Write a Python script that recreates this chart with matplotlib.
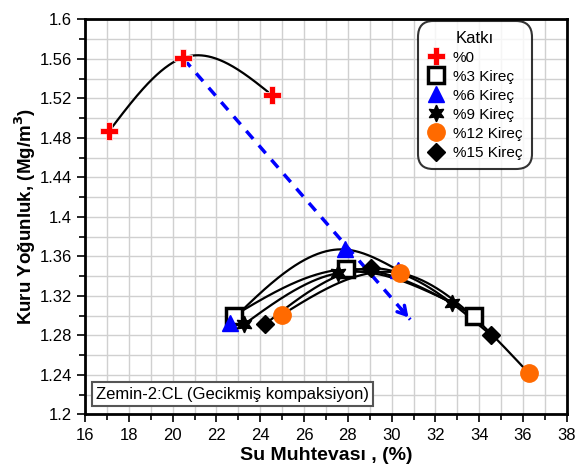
import numpy as np
import matplotlib
matplotlib.use("Agg")
import matplotlib.pyplot as plt
from matplotlib.ticker import MultipleLocator

plt.rcParams['font.family'] = ['Liberation Sans', 'DejaVu Sans']

labels = ['%0', '%3 Kireç', '%6 Kireç', '%9 Kireç', '%12 Kireç', '%15 Kireç']
w0 = [17.1, 20.45, 24.55];  d0 = [1.487, 1.561, 1.523]
w3 = [22.8, 27.9, 33.75];  d3 = [1.300, 1.347, 1.300]
w6 = [22.6, 27.85, 30.3];  d6 = [1.293, 1.367, 1.346]
w9 = [23.25, 27.55, 32.75]; d9 = [1.291, 1.343, 1.313]
w12 = [25.0, 30.4, 36.25]; d12 = [1.301, 1.343, 1.242]
w15 = [24.2, 29.05, 34.55]; d15 = [1.291, 1.348, 1.280]
arrow_start = (20.5, 1.560)
arrow_end = (30.85, 1.296)

series = [(w0, d0), (w3, d3), (w6, d6), (w9, d9), (w12, d12), (w15, d15)]


def natural_spline(x, y, n=200):
    x = np.asarray(x, float); y = np.asarray(y, float)
    m = len(x); h = np.diff(x)
    A = np.zeros((m, m)); b = np.zeros(m)
    A[0, 0] = 1; A[-1, -1] = 1
    for i in range(1, m - 1):
        A[i, i - 1] = h[i - 1]; A[i, i] = 2 * (h[i - 1] + h[i]); A[i, i + 1] = h[i]
        b[i] = 6 * ((y[i + 1] - y[i]) / h[i] - (y[i] - y[i - 1]) / h[i - 1])
    M = np.linalg.solve(A, b)
    xx = np.linspace(x[0], x[-1], n)
    idx = np.clip(np.searchsorted(x, xx) - 1, 0, m - 2)
    x0 = x[idx]; x1 = x[idx + 1]; hh = h[idx]
    yy = (M[idx] * (x1 - xx) ** 3 / (6 * hh) + M[idx + 1] * (xx - x0) ** 3 / (6 * hh)
          + (y[idx] / hh - M[idx] * hh / 6) * (x1 - xx)
          + (y[idx + 1] / hh - M[idx + 1] * hh / 6) * (xx - x0))
    return xx, yy


fig = plt.figure(figsize=(5.79, 4.73), dpi=100)
ax = fig.add_axes([0.147, 0.124, 0.832, 0.835])

ax.set_xlim(16, 38)
ax.set_ylim(1.2, 1.6)
ax.xaxis.set_major_locator(MultipleLocator(2))
ax.xaxis.set_minor_locator(MultipleLocator(1))
ax.yaxis.set_minor_locator(MultipleLocator(0.02))
ax.grid(which='both', color='#d0d0d0', lw=1.0, zorder=0)
ax.set_axisbelow(True)
for s in ax.spines.values():
    s.set_linewidth(2)
ax.tick_params(which='major', direction='out', length=6, width=1.2, labelsize=12,
               top=False, right=False)
ax.tick_params(which='minor', direction='out', length=4, width=1.2, top=False, right=False)
yt = np.round(np.arange(1.2, 1.601, 0.04), 2)
ax.set_yticks(yt)
ax.set_yticklabels([('%g' % v) for v in yt])

for w, d in series:
    xx, yy = natural_spline(w, d)
    ax.plot(xx, yy, color='black', lw=1.6, zorder=2)

ax.plot([arrow_start[0], arrow_end[0]], [arrow_start[1], arrow_end[1]],
        color='blue', lw=2.5, ls=(0, (3, 2.5)), zorder=3)
ddx = arrow_end[0] - arrow_start[0]; ddy = arrow_end[1] - arrow_start[1]
ax.annotate('', xy=arrow_end, xytext=(arrow_end[0] - 0.05 * ddx, arrow_end[1] - 0.05 * ddy),
            arrowprops=dict(arrowstyle='->,head_length=0.6,head_width=0.35', color='blue', lw=2.5),
            zorder=3)

h = []
h.append(ax.plot(w0, d0, ls='none', marker='P', ms=13, color='red', mec='white', mew=0.5, zorder=5, label=labels[0])[0])
h.append(ax.plot(w3, d3, ls='none', marker='s', ms=11, mfc='white', mec='black', mew=2.5, zorder=5, label=labels[1])[0])
h.append(ax.plot(w6, d6, ls='none', marker='^', ms=11, color='blue', zorder=5, label=labels[2])[0])
h.append(ax.plot(w9, d9, ls='none', marker=(6, 1, 0), ms=12, color='black', zorder=5, label=labels[3])[0])
h.append(ax.plot(w12, d12, ls='none', marker='o', ms=12.5, color='#FF6A00', zorder=6, label=labels[4])[0])
h.append(ax.plot(w15, d15, ls='none', marker='D', ms=9, color='black', zorder=5, label=labels[5])[0])

leg = ax.legend(handles=h, title='Katkı', loc='upper left', bbox_to_anchor=(0.697, 0.987),
                fontsize=11, title_fontsize=12, frameon=True, fancybox=True,
                edgecolor='black', handletextpad=0.5, labelspacing=0.33,
                borderpad=0.4, handlelength=1.2, borderaxespad=0)
leg.get_frame().set_linewidth(1.5)
leg.get_frame().set_boxstyle('round,pad=0.2,rounding_size=1.0')
leg.set_zorder(10)

ax.text(16.5, 1.216, 'Zemin-2:CL (Gecikmiş kompaksiyon)', fontsize=12, zorder=8,
        bbox=dict(boxstyle='square,pad=0.25', fc='white', ec='#555555', lw=1.5))

ax.set_xlabel('Su Muhtevası , (%)', fontsize=14, fontweight='bold', labelpad=3)
ax.set_ylabel('Kuru Yoğunluk, (Mg/m$^\\mathbf{3}$)', fontsize=13.5, fontweight='bold', labelpad=1)

fig.savefig('out.png', dpi=100)
